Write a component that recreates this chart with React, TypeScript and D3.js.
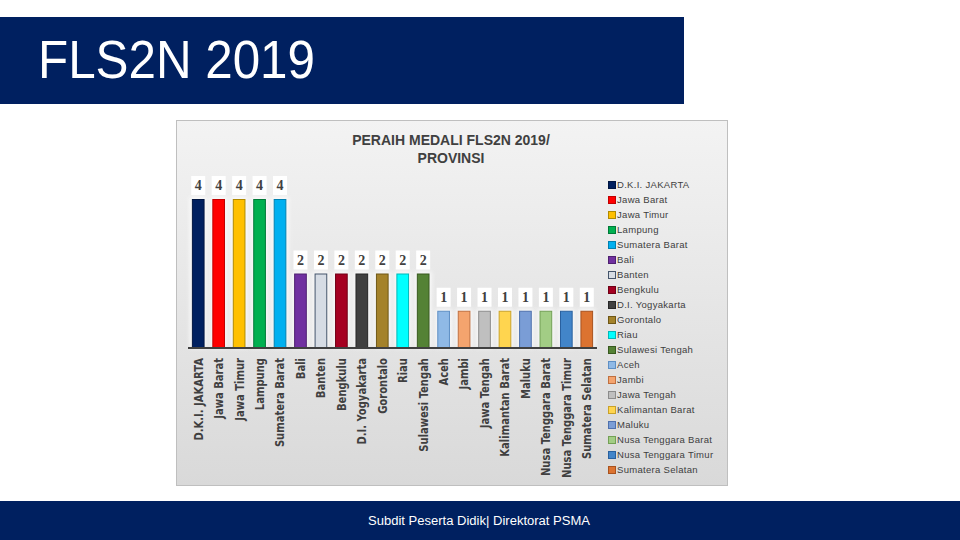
import React from "react";
import * as d3 from "d3";

const provinces = [
  "D.K.I. JAKARTA", "Jawa Barat", "Jawa Timur", "Lampung", "Sumatera Barat",
  "Bali", "Banten", "Bengkulu", "D.I. Yogyakarta", "Gorontalo", "Riau",
  "Sulawesi Tengah", "Aceh", "Jambi", "Jawa Tengah", "Kalimantan Barat",
  "Maluku", "Nusa Tenggara Barat", "Nusa Tenggara Timur", "Sumatera Selatan",
];
const medals = [4, 4, 4, 4, 4, 2, 2, 2, 2, 2, 2, 2, 1, 1, 1, 1, 1, 1, 1, 1];
const fills = [
  "#002060", "#FF0000", "#FFC000", "#00B050", "#00B0F0",
  "#7030A0", "#D6DCE4", "#A50021", "#404040", "#A4822A", "#00FFFF",
  "#548235", "#8FB9E6", "#F4A46E", "#BFBFBF", "#FFD54F",
  "#7A9DD6", "#A2CD85", "#4285C9", "#DC7330",
];
const strokes = [
  "#001540", "#C00000", "#B08A00", "#007A38", "#0080B0",
  "#4E2070", "#44546A", "#700016", "#262626", "#6E5716", "#00B8B8",
  "#38591F", "#5E8FC4", "#C07040", "#8C8C8C", "#C9A22A",
  "#4E70AD", "#73A055", "#28609E", "#A8521E",
];
const chartTitle = ["PERAIH MEDALI FLS2N 2019/", "PROVINSI"];
const pageTitle = "FLS2N 2019";
const footerText = "Subdit Peserta Didik| Direktorat PSMA";

export default function App() {
  const x = d3.scaleBand<string>().domain(provinces).range([188, 597]).paddingInner(0.38).paddingOuter(0.19);
  const y = d3.scaleLinear().domain([0, 4]).range([348, 199]);
  const bw = x.bandwidth();
  const legendY = d3.scaleBand<string>().domain(provinces).range([177.5, 477.5]);

  return (
    <svg width={960} height={540} style={{ position: "absolute", left: 0, top: 0, background: "#fff" }}>
      <defs>
        <linearGradient id="bg" x1="0" y1="0" x2="0" y2="1">
          <stop offset="0" stopColor="#F3F3F3" />
          <stop offset="1" stopColor="#D9D9D9" />
        </linearGradient>
        <filter id="glow" x="-50%" y="-20%" width="200%" height="140%">
          <feGaussianBlur stdDeviation="2" />
        </filter>
      </defs>
      <rect x={0} y={0} width={960} height={540} fill="#fff" />
      {/* title banner */}
      <rect x={0} y={17} width={684} height={87} fill="#002060" />
      <text x={38} y={78} fill="#fff" fontFamily="'Liberation Sans', Arial, sans-serif" fontSize={54}
        textLength={277} lengthAdjust="spacingAndGlyphs">{pageTitle}</text>

      {/* chart area */}
      <rect x={176.5} y={120.5} width={551} height={365} fill="url(#bg)" stroke="#BFBFBF" />
      {chartTitle.map((t, i) => (
        <text key={t} x={451} y={145 + i * 18} textAnchor="middle" fill="#404040"
          fontFamily="'Liberation Sans', Arial, sans-serif" fontWeight="bold" fontSize={14}>{t}</text>
      ))}

      {/* bars */}
      {provinces.map((p, i) => (
        <rect key={"g" + p} x={x(p)! - 2} y={y(medals[i]) - 2} width={bw + 4} height={y(0) - y(medals[i]) + 2}
          fill="#fff" opacity={0.8} filter="url(#glow)" />
      ))}
      {provinces.map((p, i) => (
        <rect key={p} x={x(p)! + 0.5} y={y(medals[i]) + 0.5} width={bw - 1} height={y(0) - y(medals[i]) - 0.5}
          fill={fills[i]} stroke={strokes[i]} strokeWidth={1} />
      ))}
      <line x1={188} x2={597} y1={348} y2={348} stroke="#404040" strokeWidth={2} />

      {/* value labels */}
      {provinces.map((p, i) => {
        const cx = x(p)! + bw / 2;
        const top = y(medals[i]);
        return (
          <g key={"v" + p}>
            <rect x={cx - 7} y={top - 23} width={14} height={19} fill="#fff" />
            <text x={cx} y={top - 9} textAnchor="middle" fill="#404040"
              fontFamily="'Liberation Serif', 'Times New Roman', serif" fontWeight="bold" fontSize={14}>{medals[i]}</text>
          </g>
        );
      })}

      {/* category labels */}
      {provinces.map((p) => {
        const cx = x(p)! + bw / 2;
        return (
          <text key={"c" + p} transform={`translate(${cx},358) rotate(-90) scale(0.89,1)`} textAnchor="end" dy="0.35em"
            fill="#404040" fontFamily="'DejaVu Sans Condensed', Arial, sans-serif"
            fontWeight="bold" fontSize={12.5}>{p}</text>
        );
      })}

      {/* legend */}
      {provinces.map((p, i) => {
        const cy = legendY(p)! + legendY.bandwidth() / 2;
        return (
          <g key={"l" + p}>
            <rect x={608.5} y={cy - 3.5} width={7} height={7} fill={fills[i]} stroke={strokes[i]} />
            <text x={617} y={cy} dy="0.35em" fill="#404040"
              fontFamily="'Liberation Sans', Arial, sans-serif" fontSize={9.5} letterSpacing={0.3}>{p}</text>
          </g>
        );
      })}

      {/* footer */}
      <rect x={0} y={501} width={960} height={39} fill="#002060" />
      <text x={368} y={525} fill="#fff" fontFamily="'Liberation Sans', Arial, sans-serif" fontSize={12}
        textLength={222} lengthAdjust="spacingAndGlyphs">{footerText}</text>
    </svg>
  );
}
